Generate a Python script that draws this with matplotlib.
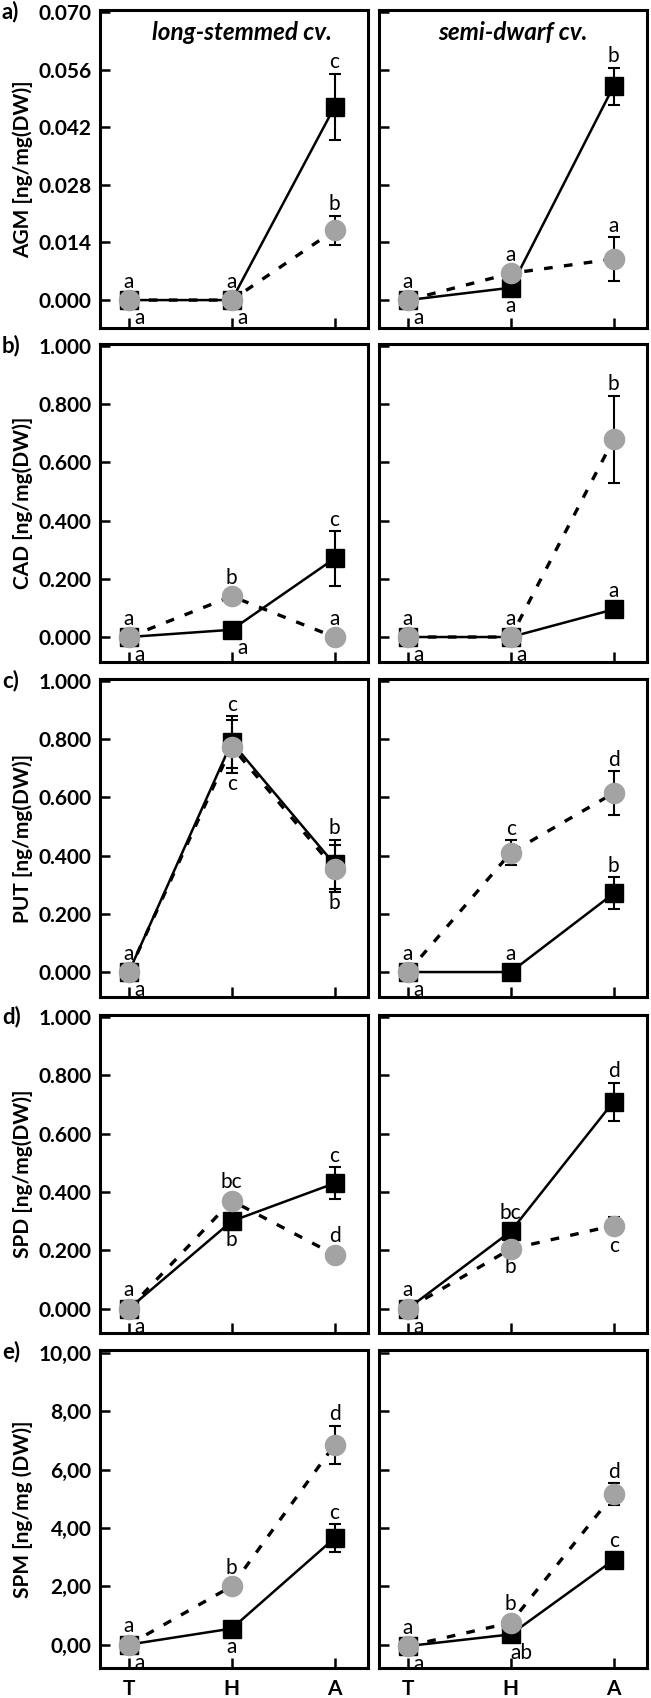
import matplotlib
matplotlib.use('Agg')
import matplotlib.pyplot as plt
import numpy as np

plt.rcParams['font.family'] = ['Lato', 'DejaVu Sans']

# Datos
stages = ['T', 'H', 'A']
panel_tags = ['a)', 'b)', 'c)', 'd)', 'e)']
ylabels = ['AGM [ng/mg(DW)]', 'CAD [ng/mg(DW)]', 'PUT [ng/mg(DW)]',
           'SPD [ng/mg(DW)]', 'SPM [ng/mg (DW)]']
col_titles = ['long-stemmed cv.', 'semi-dwarf cv.']

# cuadrado negro (linea continua)
sq_long = [[0, 0, 0.047], [0, 0.025, 0.27], [0, 0.79, 0.37], [0, 0.30, 0.43], [0, 0.55, 3.65]]
sq_long_err = [[0, 0, 0.008], [0, 0, 0.093], [0, 0.09, 0.085], [0, 0, 0.055], [0, 0, 0.47]]
sq_semi = [[0, 0.003, 0.052], [0, 0, 0.095], [0, 0, 0.27], [0, 0.265, 0.71], [-0.05, 0.35, 2.9]]
sq_semi_err = [[0, 0, 0.0045], [0, 0, 0], [0, 0, 0.055], [0, 0, 0.065], [0, 0, 0.25]]

# circulo gris (linea punteada)
ci_long = [[0, 0, 0.017], [0, 0.14, 0.0], [0, 0.775, 0.355], [0, 0.37, 0.185], [0, 2.0, 6.85]]
ci_long_err = [[0, 0, 0.0035], [0, 0, 0], [0, 0.09, 0.08], [0, 0, 0], [0, 0, 0.65]]
ci_semi = [[0, 0.0065, 0.010], [0, 0, 0.68], [0, 0.41, 0.615], [0, 0.205, 0.285], [-0.05, 0.75, 5.15]]
ci_semi_err = [[0, 0, 0.0053], [0, 0, 0.15], [0, 0.043, 0.075], [0, 0, 0.03], [0, 0, 0.38]]

# letras de significancia: (serie, punto, letra, posicion)
letters_long = [
    [('ci', 0, 'a', 'u'), ('sq', 0, 'a', 'dr'), ('ci', 1, 'a', 'u'), ('sq', 1, 'a', 'dr'),
     ('sq', 2, 'c', 'u'), ('ci', 2, 'b', 'u')],
    [('ci', 0, 'a', 'u'), ('sq', 0, 'a', 'dr'), ('ci', 1, 'b', 'u'), ('sq', 1, 'a', 'dr'),
     ('sq', 2, 'c', 'u'), ('ci', 2, 'a', 'u')],
    [('ci', 0, 'a', 'u'), ('sq', 0, 'a', 'dr'), ('sq', 1, 'c', 'u'), ('ci', 1, 'c', 'd'),
     ('sq', 2, 'b', 'u'), ('ci', 2, 'b', 'd')],
    [('ci', 0, 'a', 'u'), ('sq', 0, 'a', 'dr'), ('ci', 1, 'bc', 'u'), ('sq', 1, 'b', 'd'),
     ('sq', 2, 'c', 'u'), ('ci', 2, 'd', 'u')],
    [('ci', 0, 'a', 'u'), ('sq', 0, 'a', 'dr'), ('ci', 1, 'b', 'u'), ('sq', 1, 'a', 'd'),
     ('ci', 2, 'd', 'u'), ('sq', 2, 'c', 'u')],
]
letters_semi = [
    [('ci', 0, 'a', 'u'), ('sq', 0, 'a', 'dr'), ('ci', 1, 'a', 'u'), ('sq', 1, 'a', 'd'),
     ('sq', 2, 'b', 'u'), ('ci', 2, 'a', 'u')],
    [('ci', 0, 'a', 'u'), ('sq', 0, 'a', 'dr'), ('ci', 1, 'a', 'u'), ('sq', 1, 'a', 'dr'),
     ('ci', 2, 'b', 'u'), ('sq', 2, 'a', 'u')],
    [('ci', 0, 'a', 'u'), ('sq', 0, 'a', 'dr'), ('ci', 1, 'c', 'u'), ('sq', 1, 'a', 'u'),
     ('ci', 2, 'd', 'u'), ('sq', 2, 'b', 'u')],
    [('ci', 0, 'a', 'u'), ('sq', 0, 'a', 'dr'), ('sq', 1, 'bc', 'u'), ('ci', 1, 'b', 'd'),
     ('sq', 2, 'd', 'u'), ('ci', 2, 'c', 'd')],
    [('ci', 0, 'a', 'u'), ('sq', 0, 'a', 'dr'), ('ci', 1, 'b', 'u'), ('sq', 1, 'ab', 'dr'),
     ('ci', 2, 'd', 'u'), ('sq', 2, 'c', 'u')],
]

ylims = [(-0.0068, 0.0705), (-0.086, 1.007), (-0.086, 1.007), (-0.083, 1.007), (-0.8, 10.1)]
yticks = [np.arange(0, 0.0701, 0.014), np.arange(0, 1.01, 0.2), np.arange(0, 1.01, 0.2),
          np.arange(0, 1.01, 0.2), np.arange(0, 10.1, 2)]

GREY = '#a3a3a3'
FS = 15

fig = plt.figure(figsize=(6.51, 16.98), dpi=100)
bottoms = [0.8068, 0.6101, 0.4128, 0.2150, 0.0177]
h = 0.1873
lefts = [0.1536, 0.5822]
w = 0.4110

x = np.arange(len(stages))

for r in range(5):
    for c in range(2):
        ax = fig.add_axes([lefts[c], bottoms[r], w, h])
        if c == 0:
            sq, sqe, ci, cie, lets = sq_long[r], sq_long_err[r], ci_long[r], ci_long_err[r], letters_long[r]
        else:
            sq, sqe, ci, cie, lets = sq_semi[r], sq_semi_err[r], ci_semi[r], ci_semi_err[r], letters_semi[r]

        ax.plot(x, sq, color='black', lw=1.8, zorder=2)
        ax.plot(x, ci, color='black', lw=2.4, ls=(0, (2.6, 3.4)), zorder=2)
        ax.errorbar(x, sq, yerr=sqe, fmt='none', ecolor='black', elinewidth=1.5,
                    capsize=4.5, capthick=1.5, zorder=3)
        ax.errorbar(x, ci, yerr=cie, fmt='none', ecolor='black', elinewidth=1.5,
                    capsize=4.5, capthick=1.5, zorder=3)
        ax.plot(x, sq, ls='none', marker='s', ms=13.5, color='black', zorder=4)
        ax.plot(x, ci, ls='none', marker='o', ms=14.5, color=GREY, zorder=5)

        for serie, i, txt, pos in lets:
            vals, errs = (sq, sqe) if serie == 'sq' else (ci, cie)
            if pos == 'u':
                if errs[i] > 0:
                    ax.annotate(txt, (x[i], vals[i] + errs[i]), xytext=(0, 1),
                                textcoords='offset points', ha='center', va='bottom', fontsize=FS)
                else:
                    ax.annotate(txt, (x[i], vals[i]), xytext=(0, 6),
                                textcoords='offset points', ha='center', va='bottom', fontsize=FS)
            else:
                dx = 8 if pos == 'dr' else 0
                if errs[i] > 0:
                    yy, dy = vals[i] - errs[i], -1
                else:
                    yy, dy = vals[i], -6
                ax.annotate(txt, (x[i], yy), xytext=(dx, dy),
                            textcoords='offset points', ha='center', va='top', fontsize=FS)

        ax.set_xlim(-0.28, 2.32)
        ax.set_ylim(*ylims[r])
        ax.set_xticks(x)
        ax.set_yticks(yticks[r])
        ax.tick_params(direction='in', length=7, width=1.8, labelsize=FS, pad=6)
        for s in ax.spines.values():
            s.set_linewidth(2.2)

        if r == 4:
            ax.set_xticklabels(stages, fontweight='bold')
            ax.tick_params(axis='x', pad=8)
        else:
            ax.set_xticklabels([])

        if c == 0:
            if r == 4:
                ax.set_yticklabels([f'{v:.2f}'.replace('.', ',') for v in yticks[r]], fontweight='bold')
            else:
                ax.set_yticklabels([f'{v:.3f}' for v in yticks[r]], fontweight='bold')
            ax.set_ylabel(ylabels[r], fontsize=FS, fontweight='bold', labelpad=4)
        else:
            ax.set_yticklabels([])

        if r == 0:
            ax.text(0.53 if c == 0 else 0.5, 0.93, col_titles[c], transform=ax.transAxes,
                    fontsize=17.5, fontweight='bold', fontstyle='italic', ha='center', va='center')

    # etiqueta del panel
    fig.text(0.003, bottoms[r] + h - 0.0008, panel_tags[r], fontsize=16,
             fontweight='bold', ha='left', va='center')

fig.savefig('out.png', dpi=100)
